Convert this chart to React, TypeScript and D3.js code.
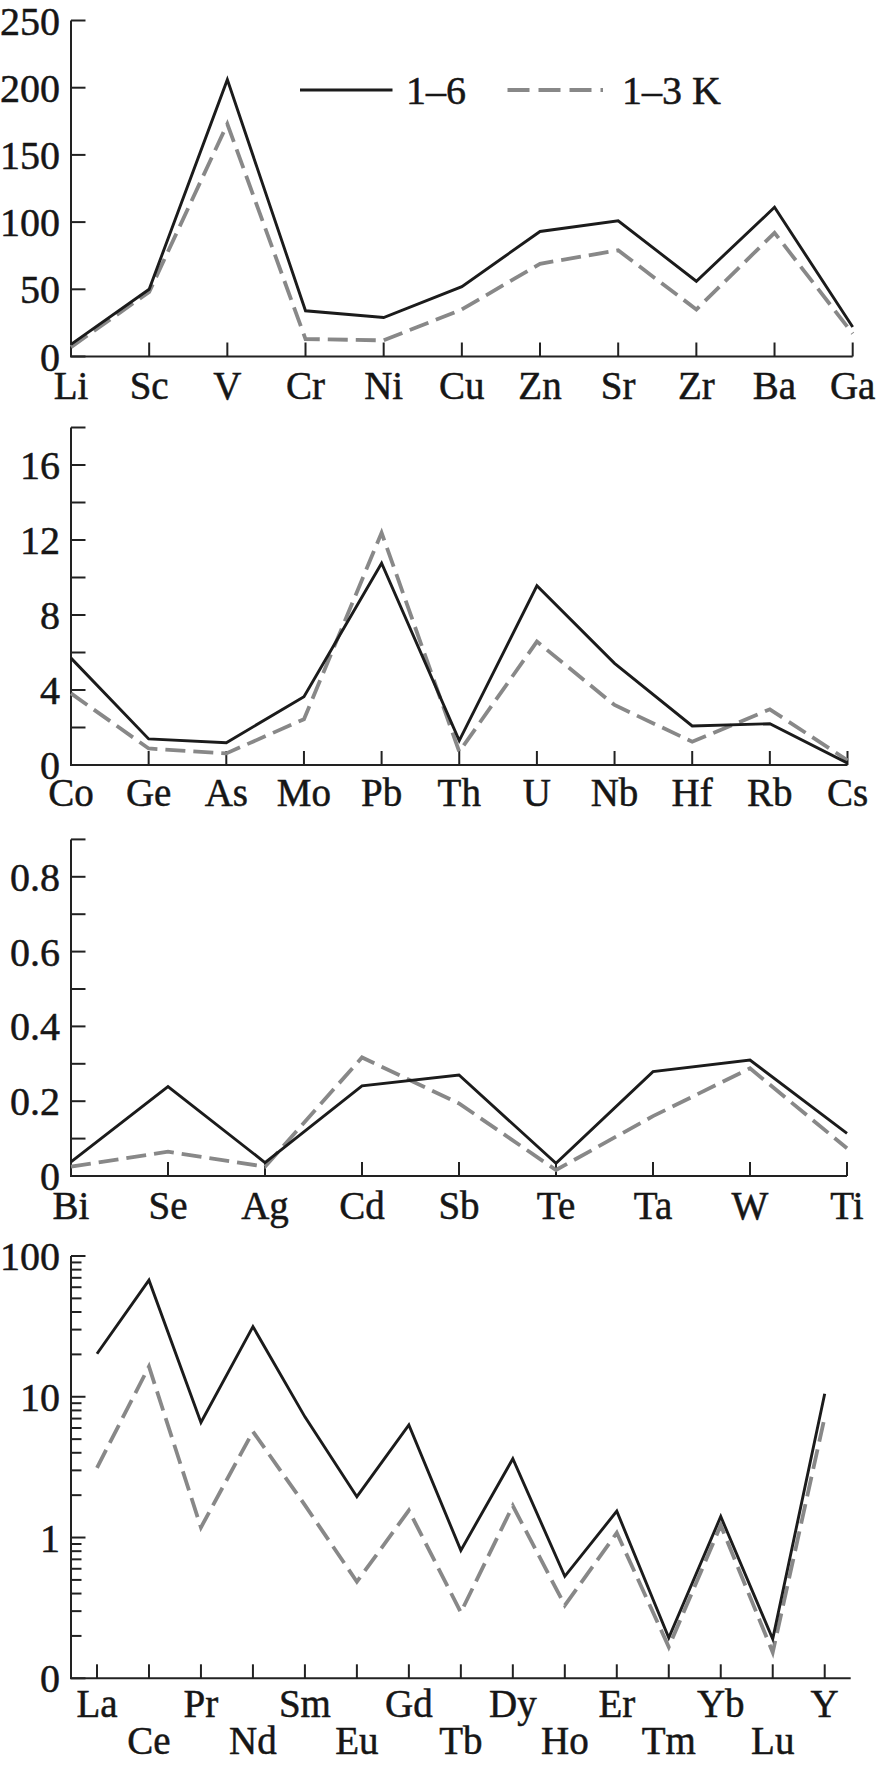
import React from "react";
import * as d3 from "d3";

const cats1 = ["Li", "Sc", "V", "Cr", "Ni", "Cu", "Zn", "Sr", "Zr", "Ba", "Ga"];
const p1Solid = [9, 50, 206, 34, 29, 52, 93, 101, 56, 111, 22];
const p1Dashed = [7, 48, 173, 13, 12, 35, 69, 79, 35, 92, 17];
const p1Ticks = [0, 50, 100, 150, 200, 250];

const cats2 = ["Co", "Ge", "As", "Mo", "Pb", "Th", "U", "Nb", "Hf", "Rb", "Cs"];
const p2Solid = [5.7, 1.39, 1.19, 3.64, 10.76, 1.3, 9.56, 5.42, 2.08, 2.2, 0.1];
const p2Dashed = [3.82, 0.88, 0.62, 2.44, 12.39, 0.71, 6.58, 3.2, 1.24, 2.97, 0.25];
const p2Ticks = [0, 2, 4, 6, 8, 10, 12, 14, 16, 18];
const p2Labels = [0, 4, 8, 12, 16];

const cats3 = ["Bi", "Se", "Ag", "Cd", "Sb", "Te", "Ta", "W", "Ti"];
const p3Solid = [0.038, 0.239, 0.036, 0.241, 0.27, 0.034, 0.279, 0.31, 0.114];
const p3Dashed = [0.025, 0.065, 0.025, 0.317, 0.194, 0.016, 0.16, 0.288, 0.074];
const p3Ticks = [0, 0.1, 0.2, 0.3, 0.4, 0.5, 0.6, 0.7, 0.8, 0.9];
const p3Labels = [0, 0.2, 0.4, 0.6, 0.8];

const cats4 = ["La", "Ce", "Pr", "Nd", "Sm", "Eu", "Gd", "Tb", "Dy", "Ho", "Er", "Tm", "Yb", "Lu", "Y"];
const p4Solid = [20.2, 67.3, 6.57, 31.5, 7.2, 1.95, 6.3, 0.81, 3.63, 0.53, 1.54, 0.194, 1.41, 0.19, 10.5];
const p4Dashed = [3.13, 16.4, 1.18, 5.66, 1.7, 0.485, 1.56, 0.294, 1.68, 0.33, 1.08, 0.167, 1.22, 0.153, 7.18];
const p4Major = [0.1, 1, 10, 100];
const p4MajorLabels = ["0", "1", "10", "100"];

const seriesNames = ["1–6", "1–3 K"];

const FONT = "Liberation Serif, Times New Roman, Tinos, DejaVu Serif, serif";
const SOLID = "#1b1b1b";
const GRAY = "#888888";
const AXIS = "#222222";
const TEXT = "#161616";
const X0 = 71;
const TICK_LABEL_X = 60;

const textProps = {
  fontFamily: FONT,
  fill: TEXT,
  stroke: TEXT,
  strokeWidth: 0.5,
};

type PanelProps = {
  cats: string[];
  solid: number[];
  dashed: number[];
  y: d3.ScaleContinuousNumeric<number, number>;
  x: (c: string) => number;
  xEnd: number;
  yTop: number;
  yBottom: number;
  yTicks: { v: number; major: boolean; label?: string }[];
  labelOffset: number;
  twoRows?: boolean;
};

function Panel(p: PanelProps) {
  const line = (vals: number[]) =>
    d3
      .line<number>()
      .x((_, i) => p.x(p.cats[i]))
      .y((v) => p.y(v))(vals) || "";
  return (
    <g>
      <line x1={X0} x2={X0} y1={p.yTop} y2={p.yBottom} stroke={AXIS} strokeWidth={2} />
      {p.yTicks.map((t, i) => (
        <g key={i}>
          <line
            x1={X0}
            x2={X0 + (t.major ? 14.5 : 10.5)}
            y1={p.y(t.v)}
            y2={p.y(t.v)}
            stroke={AXIS}
            strokeWidth={2}
          />
          {t.label !== undefined && (
            <text x={TICK_LABEL_X} y={p.y(t.v)} dy="0.35em" textAnchor="end" fontSize={40} {...textProps}>
              {t.label}
            </text>
          )}
        </g>
      ))}
      <line x1={X0 - 1} x2={p.xEnd} y1={p.yBottom} y2={p.yBottom} stroke={AXIS} strokeWidth={2} />
      {p.cats.map((c, i) => (
        <g key={c}>
          <line x1={p.x(c)} x2={p.x(c)} y1={p.yBottom} y2={p.yBottom - 14} stroke={AXIS} strokeWidth={2} />
          <text
            x={p.x(c)}
            y={p.yBottom + (p.twoRows && i % 2 === 1 ? p.labelOffset + 37 : p.labelOffset)}
            textAnchor="middle"
            fontSize={39}
            {...textProps}
          >
            {c}
          </text>
        </g>
      ))}
      <path d={line(p.dashed)} fill="none" stroke={GRAY} strokeWidth={3.8} strokeDasharray="20 8" />
      <path d={line(p.solid)} fill="none" stroke={SOLID} strokeWidth={2.9} strokeLinejoin="miter" />
    </g>
  );
}

export default function App() {
  const W = 880;
  const H = 1767;

  const x1 = d3.scalePoint<string>().domain(cats1).range([X0, 852.7]);
  const y1 = d3.scaleLinear().domain([0, 250]).range([356.5, 20.5]);
  const x2 = d3.scalePoint<string>().domain(cats2).range([X0, 847.5]);
  const y2 = d3.scaleLinear().domain([0, 18]).range([765, 427.5]);
  const x3 = d3.scalePoint<string>().domain(cats3).range([X0, 847]);
  const y3 = d3.scaleLinear().domain([0, 0.9]).range([1176, 839.4]);
  const x4 = d3.scalePoint<string>().domain(cats4).range([X0, 850.7]).padding(0.5);
  const y4 = d3.scaleLog().domain([0.1, 100]).range([1678.3, 1256]);

  const p4Ticks: { v: number; major: boolean; label?: string }[] = [];
  p4Major.forEach((m, i) => {
    p4Ticks.push({ v: m, major: true, label: p4MajorLabels[i] });
    if (i < p4Major.length - 1) {
      for (let k = 2; k <= 9; k++) p4Ticks.push({ v: m * k, major: false });
    }
  });

  return (
    <svg
      width={W}
      height={H}
      viewBox={`0 0 ${W} ${H}`}
      style={{ position: "absolute", left: 0, top: 0, background: "#fff" }}
    >
      <rect width={W} height={H} fill="#fff" />
      <Panel
        cats={cats1}
        solid={p1Solid}
        dashed={p1Dashed}
        x={(c) => x1(c) as number}
        y={y1}
        xEnd={852.7}
        yTop={20.5}
        yBottom={356.5}
        yTicks={p1Ticks.map((v) => ({ v, major: true, label: String(v) }))}
        labelOffset={42.5}
      />
      <Panel
        cats={cats2}
        solid={p2Solid}
        dashed={p2Dashed}
        x={(c) => x2(c) as number}
        y={y2}
        xEnd={847.5}
        yTop={427.5}
        yBottom={765}
        yTicks={p2Ticks.map((v) => ({ v, major: true, label: p2Labels.includes(v) ? String(v) : undefined }))}
        labelOffset={40.5}
      />
      <Panel
        cats={cats3}
        solid={p3Solid}
        dashed={p3Dashed}
        x={(c) => x3(c) as number}
        y={y3}
        xEnd={847}
        yTop={839.4}
        yBottom={1176}
        yTicks={p3Ticks.map((v) => ({
          v,
          major: true,
          label: p3Labels.some((l) => Math.abs(l - v) < 1e-9) ? (v === 0 ? "0" : v.toFixed(1)) : undefined,
        }))}
        labelOffset={43}
      />
      <Panel
        cats={cats4}
        solid={p4Solid}
        dashed={p4Dashed}
        x={(c) => x4(c) as number}
        y={y4}
        xEnd={850.7}
        yTop={1256}
        yBottom={1678.3}
        yTicks={p4Ticks}
        labelOffset={38.5}
        twoRows
      />
      <line x1={300} x2={392.5} y1={90} y2={90} stroke={SOLID} strokeWidth={2.9} />
      <text x={406} y={90} dy="0.35em" fontSize={40} {...textProps}>
        {seriesNames[0]}
      </text>
      <line x1={507.5} x2={603} y1={90} y2={90} stroke={GRAY} strokeWidth={3.8} strokeDasharray="22 9" />
      <text x={622} y={90} dy="0.35em" fontSize={40} {...textProps}>
        {seriesNames[1]}
      </text>
    </svg>
  );
}
